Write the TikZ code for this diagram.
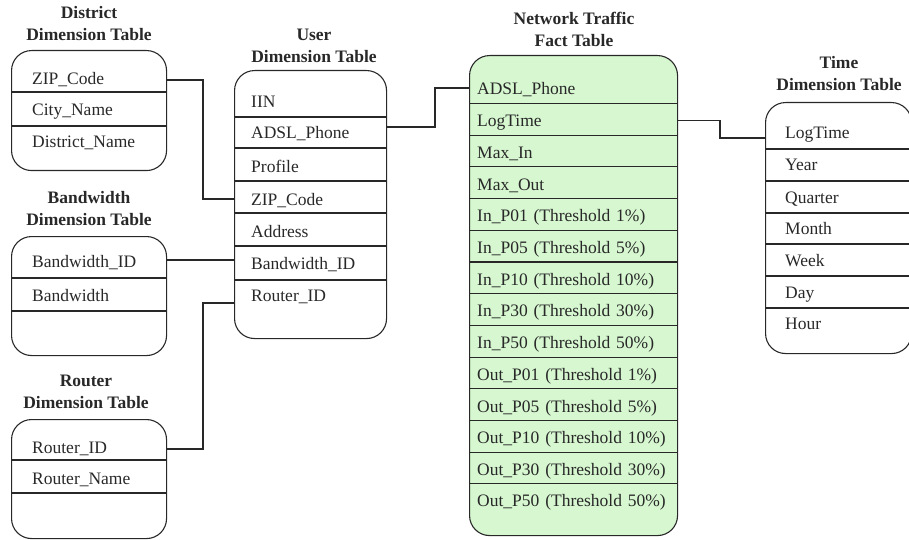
\documentclass[tikz,border=0pt]{standalone}
\usepackage{fontspec}
\setmainfont{Liberation Serif}
\definecolor{ink}{RGB}{40,40,40}
\definecolor{factgreen}{RGB}{214,247,208}
\begin{document}
\begin{tikzpicture}[x=1pt,y=-1pt,
  font=\fontsize{17.5}{21}\selectfont,
  tbl/.style={draw=ink, line width=1.1pt, rounded corners=20pt, rectangle,
              anchor=north west, inner sep=0pt},
  sep/.style={draw=ink, line width=1.1pt},
  link/.style={draw=ink, line width=1.1pt},
  title/.style={align=center, text=ink, font=\fontsize{17.5}{22}\selectfont\bfseries},
  fld/.style={rectangle, anchor=west, inner ysep=0pt, text height=12pt,
              text depth=0pt, align=left, text=ink},
  dfld/.style={fld, inner xsep=21pt, text width=113pt},
  ufld/.style={fld, inner xsep=17pt, text width=118pt},
  ffld/.style={fld, inner xsep=8pt, text width=192pt},
  tfld/.style={fld, inner xsep=20pt, text width=106pt}]
\useasboundingbox (0,0) rectangle (909,540);

% ---------- District dimension table ----------
\node[title] (districtT) at (89,24) {District\\Dimension Table};
\node[tbl, minimum width=155pt, minimum height=120pt] (district) at (11,50) {};
\foreach \yy in {92,126} \draw[sep] (11,\yy) -- (166,\yy);
\node[dfld] (dzip)  at (11,79)  {ZIP\_Code};
\node[dfld] (dcity) at (11,110) {City\_Name};
\node[dfld] (dname) at (11,142) {District\_Name};

% ---------- Bandwidth dimension table ----------
\node[title] (bandT) at (89,209) {Bandwidth\\Dimension Table};
\node[tbl, minimum width=155pt, minimum height=119pt] (band) at (11,236) {};
\foreach \yy in {278,311} \draw[sep] (11,\yy) -- (166,\yy);
\node[dfld] (bid) at (11,261) {Bandwidth\_ID};
\node[dfld] (bbw) at (11,295) {Bandwidth};

% ---------- Router dimension table ----------
\node[title] (routerT) at (86,392) {Router\\Dimension Table};
\node[tbl, minimum width=155pt, minimum height=119pt] (router) at (11,419) {};
\foreach \yy in {460,493} \draw[sep] (11,\yy) -- (166,\yy);
\node[dfld] (rid)   at (11,447) {Router\_ID};
\node[dfld] (rname) at (11,478) {Router\_Name};

% ---------- User dimension table ----------
\node[title] (userT) at (314,46) {User\\Dimension Table};
\node[tbl, minimum width=152pt, minimum height=268pt] (user) at (234,70) {};
\foreach \yy in {117,148,181,213,246,280} \draw[sep] (234,\yy) -- (386,\yy);
\node[ufld] (uiin)  at (234,102) {IIN};
\node[ufld] (uadsl) at (234,133) {ADSL\_Phone};
\node[ufld] (uprof) at (234,166) {Profile};
\node[ufld] (uzip)  at (234,199) {ZIP\_Code};
\node[ufld] (uaddr) at (234,231) {Address};
\node[ufld] (uband) at (234,263) {Bandwidth\_ID};
\node[ufld] (urid)  at (234,295) {Router\_ID};

% ---------- Network traffic fact table ----------
\node[title] (factT) at (574,29) {Network Traffic\\Fact Table};
\node[tbl, fill=factgreen, minimum width=208pt, minimum height=480pt] (fact) at (469,55) {};
\foreach \yy in {103.5,135.2,166.9,198.6,230.3,262,293.7,325.4,357.1,388.8,420.5,452.2,483.9}
  \draw[sep] (469,\yy) -- (677,\yy);
\node[ffld] (fadsl) at (469,89)    {ADSL\_Phone};
\node[ffld] (flog)  at (469,120.7) {LogTime};
\node[ffld] (fmin)  at (469,152.4) {Max\_In};
\node[ffld] (fmout) at (469,184.1) {Max\_Out};
\node[ffld] (fi01)  at (469,215.8) {In\_P01 (Threshold 1\%)};
\node[ffld] (fi05)  at (469,247.5) {In\_P05 (Threshold 5\%)};
\node[ffld] (fi10)  at (469,279.2) {In\_P10 (Threshold 10\%)};
\node[ffld] (fi30)  at (469,310.9) {In\_P30 (Threshold 30\%)};
\node[ffld] (fi50)  at (469,342.6) {In\_P50 (Threshold 50\%)};
\node[ffld] (fo01)  at (469,374.3) {Out\_P01 (Threshold 1\%)};
\node[ffld] (fo05)  at (469,406)   {Out\_P05 (Threshold 5\%)};
\node[ffld] (fo10)  at (469,437.7) {Out\_P10 (Threshold 10\%)};
\node[ffld] (fo30)  at (469,469.4) {Out\_P30 (Threshold 30\%)};
\node[ffld] (fo50)  at (469,500.1) {Out\_P50 (Threshold 50\%)};

% ---------- Time dimension table ----------
\node[title] (timeT) at (839,74) {Time\\Dimension Table};
\node[tbl, minimum width=146pt, minimum height=251pt] (time) at (765,102) {};
\foreach \yy in {149,181,213,244,276,308} \draw[sep] (765,\yy) -- (911,\yy);
\node[tfld] (tlog)  at (765,133) {LogTime};
\node[tfld] (tyear) at (765,165) {Year};
\node[tfld] (tqtr)  at (765,197) {Quarter};
\node[tfld] (tmon)  at (765,228) {Month};
\node[tfld] (tweek) at (765,260) {Week};
\node[tfld] (tday)  at (765,292) {Day};
\node[tfld] (thour) at (765,323) {Hour};

% ---------- Key links ----------
\coordinate (jzip)  at (203,140);
\coordinate (jrtr)  at (203,380);
\coordinate (jadsl) at (435,110);
\coordinate (jlog)  at (720,130);
\draw[link] ([yshift=-1pt]dzip.east) -| (jzip) |- (uzip.west);
\draw[link] ([yshift=1pt]bid.east) -- ([yshift=1pt]bid.east -| uband.west);
\draw[link] ([yshift=-2pt]rid.east) -| (jrtr) |- ([yshift=-8pt]urid.west);
\draw[link] ([yshift=6pt]uadsl.east) -| (jadsl) |- ([yshift=1pt]fadsl.west);
\draw[link] (flog.east) -| (jlog) |- ([yshift=-5pt]tlog.west);
\end{tikzpicture}
\end{document}
